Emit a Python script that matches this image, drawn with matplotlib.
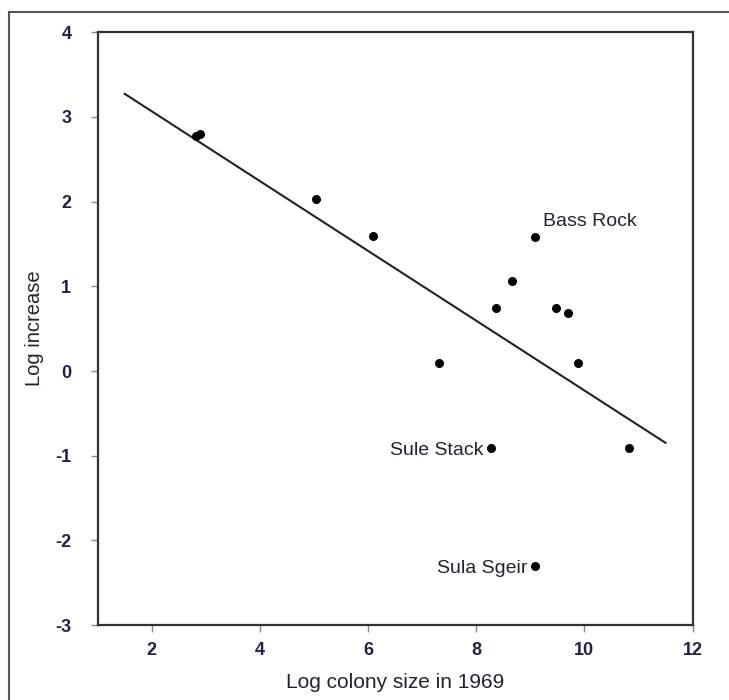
import numpy as np
import matplotlib.pyplot as plt
from matplotlib.lines import Line2D

plt.rcParams['axes.unicode_minus'] = False

# colony data
log_size = [2.81, 2.89, 5.04, 6.09, 7.31, 8.37, 8.67, 9.09, 9.48, 9.69, 9.89, 8.28, 10.83, 9.09]
log_increase = [2.77, 2.80, 2.03, 1.59, 0.10, 0.74, 1.06, 1.58, 0.74, 0.69, 0.10, -0.91, -0.91, -2.30]

# named colonies
labels = ['Bass Rock', 'Sule Stack', 'Sula Sgeir']
label_x = [9.09, 8.28, 9.09]
label_y = [1.58, -0.91, -2.30]

# regression line
intercept = 3.89
slope = -0.412
line_range = [1.5, 11.5]

xticks = [2, 4, 6, 8, 10, 12]
yticks = [-3, -2, -1, 0, 1, 2, 3, 4]

label_font = ['Liberation Sans', 'DejaVu Sans']
tick_font = ['Liberation Sans', 'DejaVu Sans']
txt_col = '#222233'

fig = plt.figure(figsize=(7.29, 7.0), dpi=100)
ax = fig.add_axes([0.134, 0.107, 0.816, 0.847])

xl = np.array(line_range)
ax.plot(xl, intercept + slope * xl, color='#222222', lw=1.5)
ax.scatter(log_size, log_increase, s=30, color='black', zorder=3)

# annotations
ax.text(label_x[0] + 0.15, label_y[0] + 0.08, labels[0], fontsize=14, family=label_font,
        color=txt_col, ha='left', va='bottom')
ax.text(label_x[1] - 0.15, label_y[1] - 0.03, labels[1], fontsize=14, family=label_font,
        color=txt_col, ha='right', va='center')
ax.text(label_x[2] - 0.15, label_y[2] - 0.03, labels[2], fontsize=14, family=label_font,
        color=txt_col, ha='right', va='center')

ax.set_xlim(1, 12)
ax.set_ylim(-3, 4)
ax.set_xticks(xticks)
ax.set_yticks(yticks)
for t in ax.get_xticklabels() + ax.get_yticklabels():
    t.set_family(tick_font)
    t.set_fontweight('bold')
    t.set_fontsize(13)
    t.set_color('#222244')
ax.tick_params(length=5, width=1, color='#888888')
ax.tick_params(axis='x', pad=7)
ax.tick_params(axis='y', pad=14)

for sp in ax.spines.values():
    sp.set_color('#333333')
    sp.set_linewidth(1.6)

ax.set_xlabel('Log colony size in 1969', fontsize=15, family=label_font, color=txt_col)
ax.set_ylabel('Log increase', fontsize=14.5, family=label_font, color=txt_col)
ax.xaxis.set_label_coords(0.5, -0.08)
ax.yaxis.set_label_coords(-0.09, 0.5)

# outer frame of the original figure (cut off at right and bottom)
fig.add_artist(Line2D([0.0125, 1.0], [0.983, 0.983], transform=fig.transFigure, color='#555555', lw=1.5))
fig.add_artist(Line2D([0.0125, 0.0125], [0.0, 0.983], transform=fig.transFigure, color='#555555', lw=1.5))

fig.savefig('out.png', dpi=100)
